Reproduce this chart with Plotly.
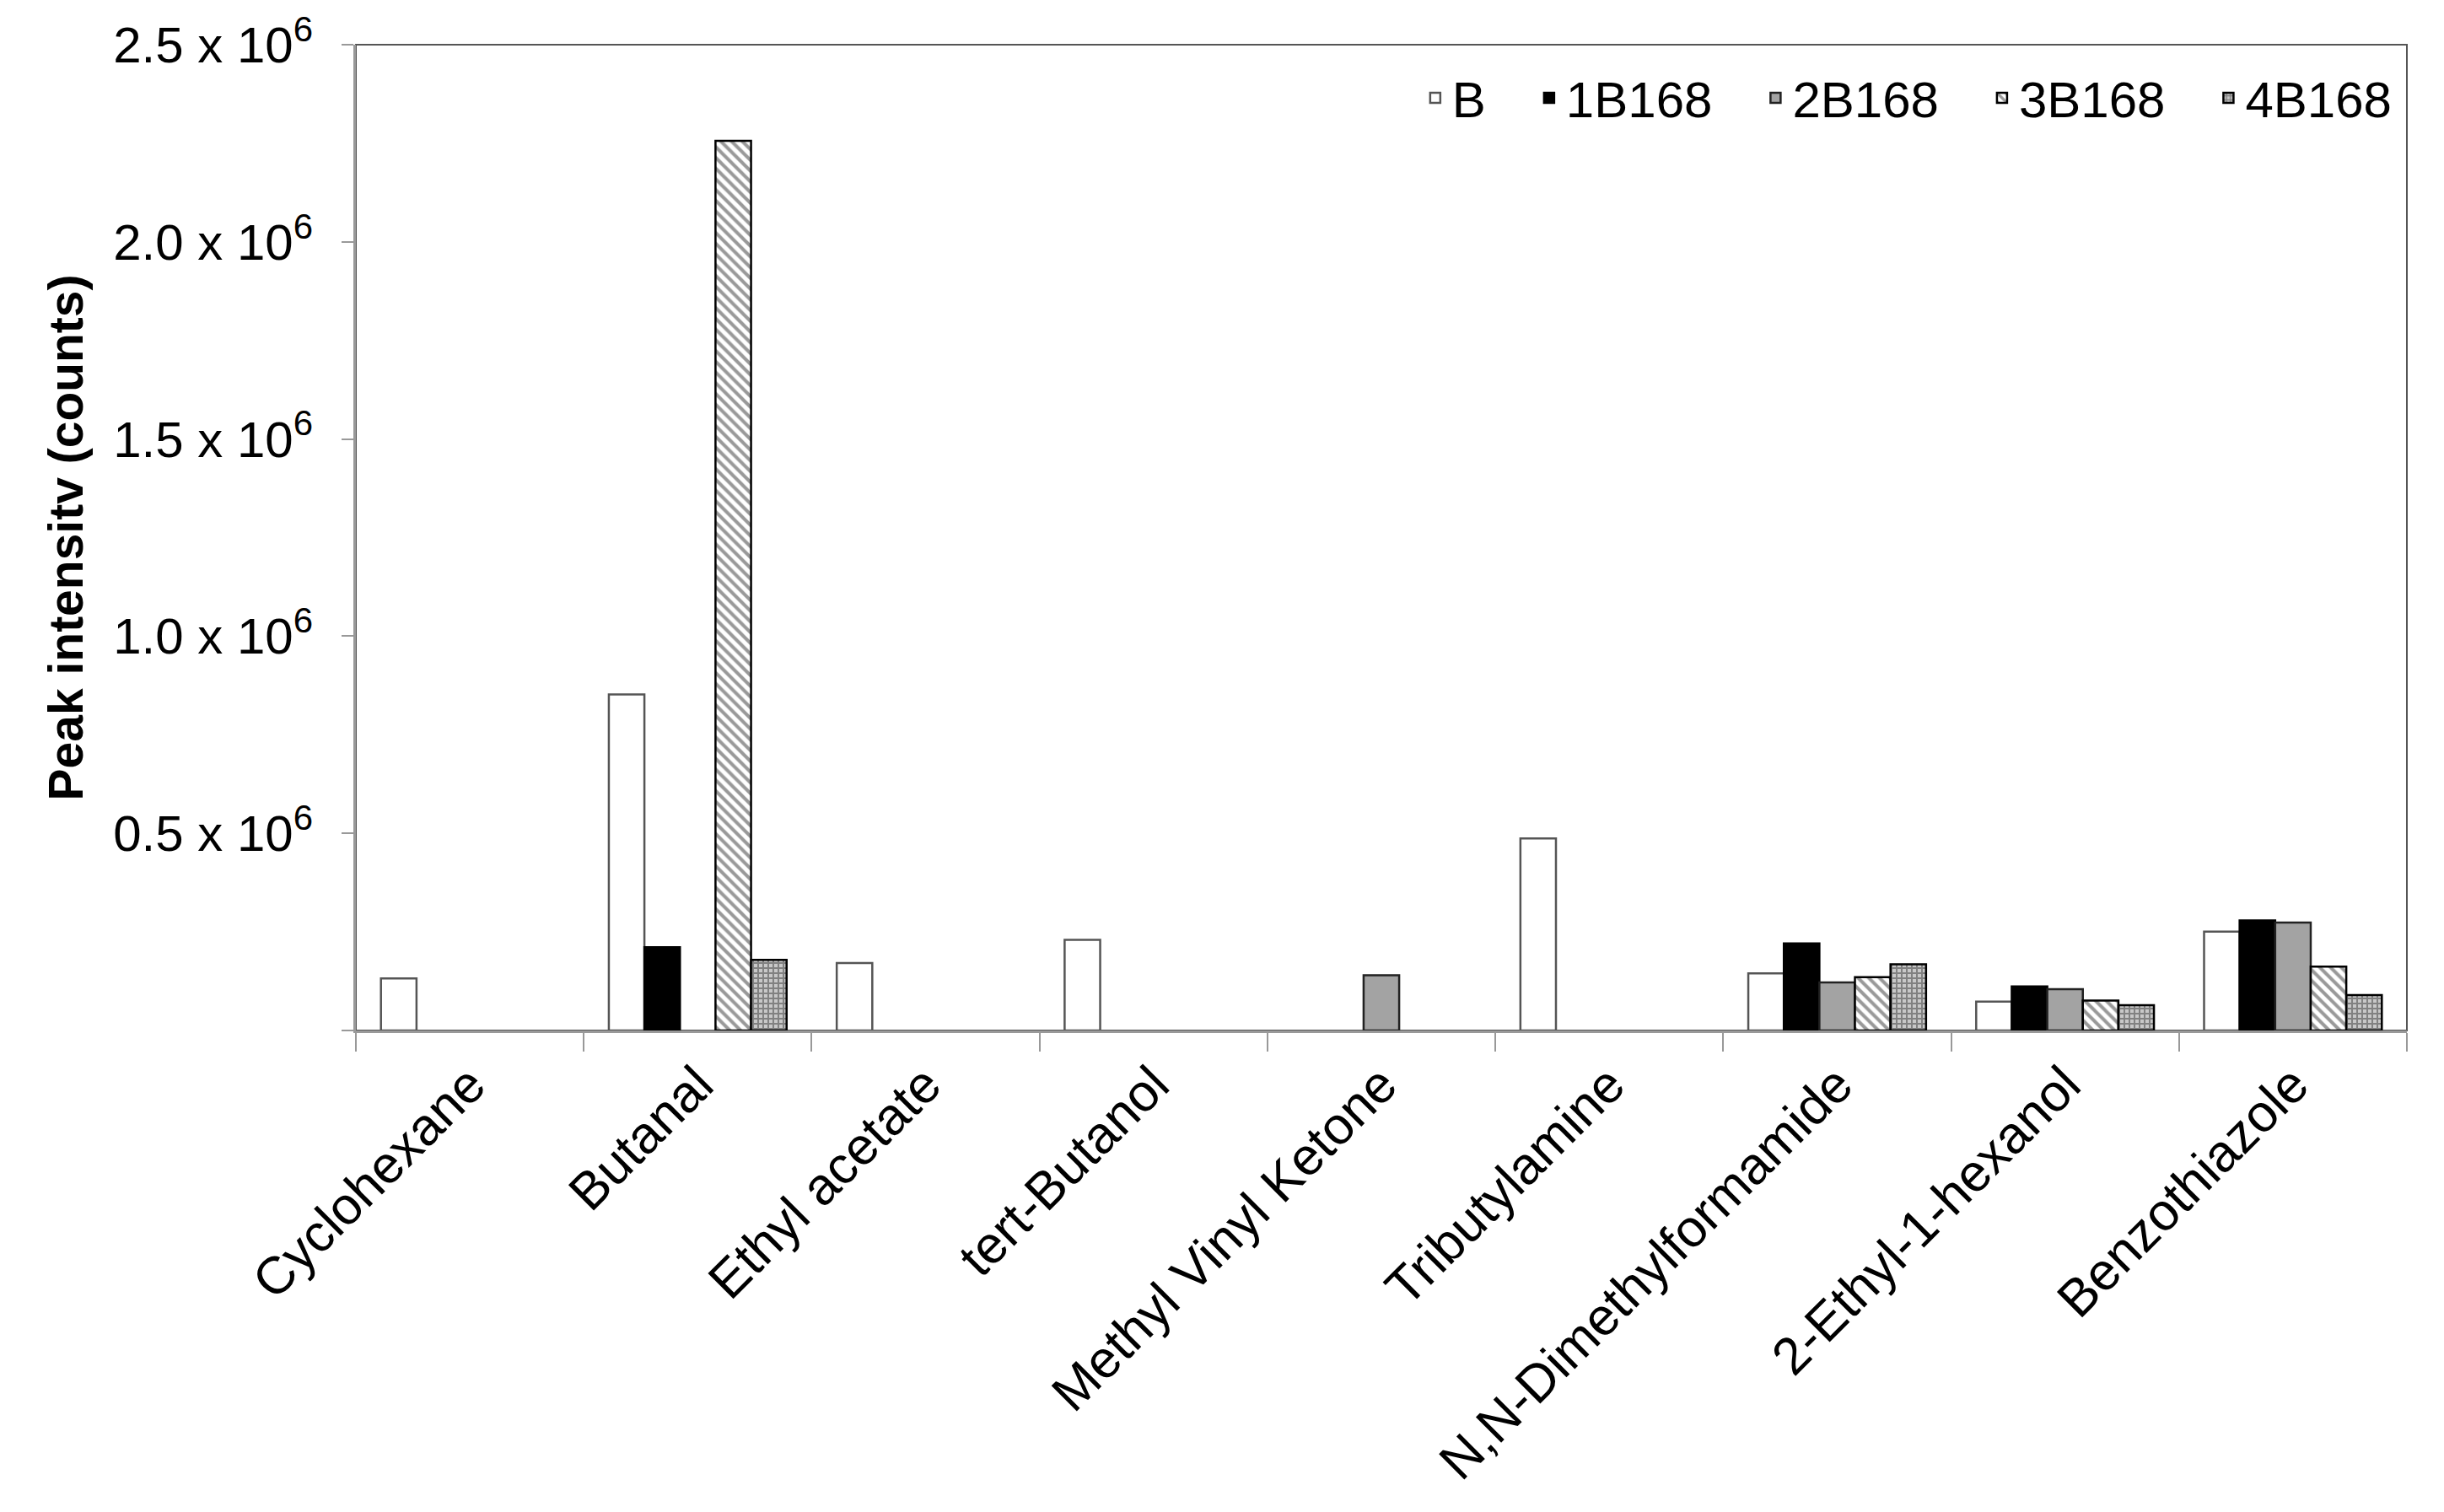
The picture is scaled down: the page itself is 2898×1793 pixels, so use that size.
import plotly.graph_objects as go

categories = ["Cyclohexane", "Butanal", "Ethyl acetate", "tert-Butanol",
              "Methyl Vinyl Ketone", "Tributylamine", "N,N-Dimethylformamide",
              "2-Ethyl-1-hexanol", "Benzothiazole"]

series_names = ["B", "1B168", "2B168", "3B168", "4B168"]

# None = no bar drawn for that compound
B      = [0.132e6, 0.852e6, 0.171e6, 0.230e6, None,    0.487e6, 0.145e6, 0.073e6, 0.251e6]
B1_168 = [None,    0.211e6, None,    None,    None,    None,    0.221e6, 0.112e6, 0.279e6]
B2_168 = [None,    None,    None,    None,    0.140e6, None,    0.122e6, 0.105e6, 0.274e6]
B3_168 = [None,    2.256e6, None,    None,    None,    None,    0.135e6, 0.076e6, 0.162e6]
B4_168 = [None,    0.179e6, None,    None,    None,    None,    0.168e6, 0.064e6, 0.090e6]

ytick_vals = [0, 0.5e6, 1.0e6, 1.5e6, 2.0e6, 2.5e6]
ytick_text = ["", "0.5 x 10<sup>6</sup>", "1.0 x 10<sup>6</sup>", "1.5 x 10<sup>6</sup>",
              "2.0 x 10<sup>6</sup>", "2.5 x 10<sup>6</sup>"]

FONT = "Liberation Sans, Arial, Helvetica, sans-serif"
NB = "\u00a0"

styles = [
    dict(color="white", line=dict(color="#555555", width=2.5)),
    dict(color="black", line=dict(color="black", width=2.5)),
    dict(color="#a3a3a3", line=dict(color="#222222", width=2.5)),
    dict(color="white", line=dict(color="black", width=2.5),
         pattern=dict(shape="\\", fgcolor="#333333", bgcolor="white", size=9, solidity=0.45)),
    dict(color="#777777", line=dict(color="black", width=2.5),
         pattern=dict(shape="+", fgcolor="#3a3a3a", bgcolor="#c8c8c8", size=6, solidity=0.55)),
]

data = [B, B1_168, B2_168, B3_168, B4_168]

fig = go.Figure()
for i, (name, vals, st) in enumerate(zip(series_names, data, styles)):
    label = name if i == len(series_names) - 1 else name + NB * 3
    fig.add_trace(go.Bar(x=categories, y=vals, name=label, marker=st))

fig.update_layout(
    width=2898, height=1793,
    margin=dict(l=422, r=44, t=53, b=571),
    paper_bgcolor="white", plot_bgcolor="white",
    barmode="group", bargap=0.22, bargroupgap=0,
    font=dict(family=FONT, color="black", size=58),
    showlegend=True,
    legend=dict(orientation="h", x=0.995, xanchor="right", y=0.985, yanchor="top",
                font=dict(size=60, family=FONT), bgcolor="rgba(0,0,0,0)",
                itemwidth=30, traceorder="normal"),
    shapes=[dict(type="rect", xref="paper", yref="paper", x0=0, x1=1, y0=0, y1=1,
                 line=dict(color="#555555", width=2), layer="below")],
)

fig.update_xaxes(
    showline=True, linecolor="#999999", linewidth=3,
    ticks="outside", tickson="boundaries", ticklen=22, tickcolor="#999999", tickwidth=2,
    tickangle=-45, tickfont=dict(size=62, family=FONT, color="black"),
    showgrid=False, zeroline=False,
)
fig.update_yaxes(
    range=[0, 2.5e6], tickvals=ytick_vals, ticktext=ytick_text,
    showline=True, linecolor="#999999", linewidth=3,
    ticks="outside", ticklen=14, tickcolor="#999999", tickwidth=2,
    ticklabelstandoff=22,
    tickfont=dict(size=60, family=FONT, color="black"),
    showgrid=False, zeroline=False,
    title=dict(text="<b>Peak intensitv (counts)</b>", font=dict(size=57, family=FONT), standoff=18),
)

fig.write_html("out.html", config={"displayModeBar": False},
               post_script="document.body.style.margin='0';")
